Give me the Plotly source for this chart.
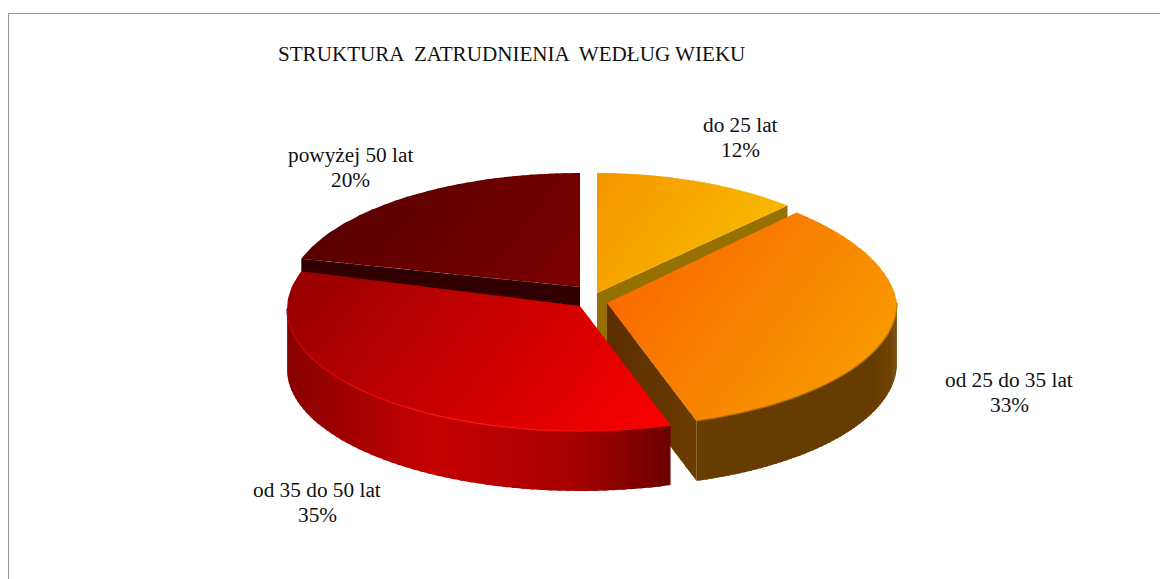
import math
import plotly.graph_objects as go

# ---- data ----
categories = ["do 25 lat", "od 25 do 35 lat", "od 35 do 50 lat", "powyżej 50 lat"]
values = [12, 33, 35, 20]
title_text = "STRUKTURA  ZATRUDNIENIA  WEDŁUG WIEKU"

# ---- geometry / style ----
W, H = 1168, 579
PAGE_MARGIN = 8  # the page body keeps its default margin
DEPTH = 60
centers = [(597, 293), (607, 303), (580, 306), (580, 287)]   # apex of each slice
ellipse_y = [293, 303, 309, 297]                              # centre height of each rim ellipse
radii = [(291, 120), (290, 124), (293, 122), (293, 124)]
persp = [0.0005, 0.0005, 0.0, 0.0]
top_grad = [("#F59600", "#F9B800"), ("#F96C00", "#F89800"), ("#9A0000", "#FA0000"), ("#5A0000", "#7C0000")]
cut_wall = ["#967000", "#623400", None, "#300000"]
outer_stops = {1: [(0, "#734400"), (0.12, "#663C00"), (1, "#663C00")],
               2: [(0, "#6E0000"), (0.25, "#A80000"), (0.62, "#C40000"), (1, "#880000")]}
rim_stops = {1: [(0, "#C07800"), (1, "#A86800")],
             2: [(0, "#EE0000"), (0.35, "#FF1818"), (0.75, "#E00000"), (1, "#B00000")]}
label_pos = [(740, 125), (1009, 380), (317, 490), (350, 155)]
LINE_GAP = 25
BAND_DIR = (0.8, 0.6)


def rgb(c):
    return tuple(int(c[i:i + 2], 16) for i in (1, 3, 5))


def lerp(c0, c1, f):
    a, b = rgb(c0), rgb(c1)
    return "#%02x%02x%02x" % tuple(round(a[i] + (b[i] - a[i]) * f) for i in range(3))


def stops_color(stops, f):
    for (f0, c0), (f1, c1) in zip(stops, stops[1:]):
        if f <= f1:
            return lerp(c0, c1, (f - f0) / (f1 - f0))
    return stops[-1][1]


def pt(i, t):
    cx, _ = centers[i]
    a, b = radii[i]
    dy = -b * math.cos(t)
    return cx + a * math.sin(t) * (1 + persp[i] * min(dy, 0)), ellipse_y[i] + dy


def clip(poly, d, lim, keep_above):
    out = []
    for p, q in zip(poly, poly[1:] + poly[:1]):
        sp = p[0] * d[0] + p[1] * d[1] - lim
        sq = q[0] * d[0] + q[1] * d[1] - lim
        if not keep_above:
            sp, sq = -sp, -sq
        if sp >= 0:
            out.append(p)
        if (sp >= 0) != (sq >= 0):
            f = sp / (sp - sq)
            out.append((p[0] + (q[0] - p[0]) * f, p[1] + (q[1] - p[1]) * f))
    return out


fig = go.Figure()


def fill(poly, color):
    xs = [p[0] for p in poly] + [poly[0][0]]
    ys = [p[1] for p in poly] + [poly[0][1]]
    fig.add_trace(go.Scatter(x=xs, y=ys, mode="lines", fill="toself", fillcolor=color,
                             line=dict(width=0), hoverinfo="skip", showlegend=False))


def stroke(p, q, color, lw):
    fig.add_trace(go.Scatter(x=[p[0], q[0]], y=[p[1], q[1]], mode="lines",
                             line=dict(color=color, width=lw), hoverinfo="skip", showlegend=False))


# angles from the values (clockwise from 12 o'clock)
total = sum(values)
starts, acc = [], 0
for v in values:
    starts.append(acc / total * 2 * math.pi)
    acc += v
ends = starts[1:] + [2 * math.pi]

for i in [3, 0, 1, 2]:  # back to front
    t0, t1 = starts[i], ends[i]
    cx, cy = centers[i]
    # straight cut wall
    if cut_wall[i]:
        e = pt(i, t0 if i == 3 else t1)
        if i == 1:
            n = 16
            for k in range(n):
                p = (cx + (e[0] - cx) * k / n, cy + (e[1] - cy) * k / n)
                q = (cx + (e[0] - cx) * min(1, (k + 1.3) / n), cy + (e[1] - cy) * min(1, (k + 1.3) / n))
                fill([p, q, (q[0], q[1] + DEPTH), (p[0], p[1] + DEPTH)],
                     lerp("#5C2E00", "#6A3C00", k / (n - 1)))
        else:
            fill([(cx, cy), e, (e[0], e[1] + DEPTH), (cx, cy + DEPTH)], cut_wall[i])
    # curved outer wall (strips overlap slightly so no seams show)
    if i in outer_stops:
        a0 = max(t0, math.pi / 2)
        a1 = min(t1, 3 * math.pi / 2)
        n = 60
        x0, x1 = pt(i, a0)[0], pt(i, a1)[0]
        for k in range(n):
            u0 = a0 + (a1 - a0) * k / n
            u1 = a0 + (a1 - a0) * min(1, (k + 1.5) / n)
            p, q = pt(i, u0), pt(i, u1)
            f = abs(p[0] - x0) / abs(x1 - x0)
            fill([p, q, (q[0], q[1] + DEPTH), (p[0], p[1] + DEPTH)], stops_color(outer_stops[i], f))
    # top face as overlapping gradient bands
    arc = [pt(i, t0 + (t1 - t0) * k / 80) for k in range(81)]
    poly = [(cx, cy)] + arc
    proj = [p[0] * BAND_DIR[0] + p[1] * BAND_DIR[1] for p in poly]
    lo, hi = min(proj), max(proj)
    n = 36
    c0, c1 = top_grad[i]
    for k in range(n):
        l0 = lo + (hi - lo) * k / n
        l1 = lo + (hi - lo) * (k + 1) / n + 1.5
        band = clip(clip(poly, BAND_DIR, l0, True), BAND_DIR, l1, False)
        if len(band) >= 3:
            fill(band, lerp(c0, c1, k / (n - 1)))
    # bevel along the front rim
    if i in rim_stops:
        a0 = max(t0, math.pi / 2)
        a1 = min(t1, 3 * math.pi / 2)
        n = 40
        for k in range(n):
            u0 = a0 + (a1 - a0) * k / n
            u1 = a0 + (a1 - a0) * (k + 1) / n
            stroke(pt(i, u0), pt(i, u1), stops_color(rim_stops[i], k / (n - 1)), 1.3)

font = dict(family="Liberation Serif", size=21.3, color="#111111")
annotations = [dict(x=276, y=54, xref="x", yref="y", text=title_text, showarrow=False,
                    xanchor="left", yanchor="middle",
                    font=dict(family="Liberation Serif", size=21.1, color="#111111"))]
for cat, val, (lx, ly) in zip(categories, values, label_pos):
    for txt, yy in ((cat, ly), (f"{val}%", ly + LINE_GAP)):
        annotations.append(dict(x=lx, y=yy, xref="x", yref="y", text=txt, showarrow=False,
                                xanchor="center", yanchor="middle", font=font))

fig.update_layout(
    width=W - PAGE_MARGIN, height=H - PAGE_MARGIN, autosize=False,
    margin=dict(l=0, r=0, t=0, b=0),
    paper_bgcolor="white", plot_bgcolor="white",
    xaxis=dict(range=[PAGE_MARGIN, W], visible=False, fixedrange=True),
    yaxis=dict(range=[H, PAGE_MARGIN], visible=False, fixedrange=True),
    annotations=annotations,
    shapes=[dict(type="line", xref="x", yref="y", x0=8.5, x1=W, y0=13.5, y1=13.5, line=dict(color="#9a9a9a", width=1.2)),
            dict(type="line", xref="x", yref="y", x0=8.5, x1=8.5, y0=13.5, y1=H, line=dict(color="#9a9a9a", width=1.2))],
)
fig.write_html("out.html", config=dict(displayModeBar=False))
